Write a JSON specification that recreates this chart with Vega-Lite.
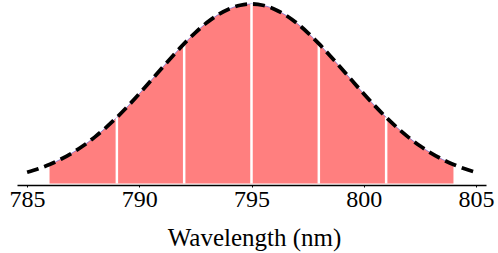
{
  "$schema": "https://vega.github.io/schema/vega-lite/v6.json",
  "autosize": {"type": "none"},
  "width": 469,
  "height": 179.5,
  "padding": {"left": 17, "top": 4, "right": 12, "bottom": 69.5},
  "config": {"view": {"stroke": null}, "font": "Liberation Serif"},
  "datasets": {
    "curve": [
      {"wl": 785, "v": 0.0625}, {"wl": 785.5, "v": 0.08191}, {"wl": 786, "v": 0.10584}, {"wl": 786.5, "v": 0.1349},
      {"wl": 787, "v": 0.16957}, {"wl": 787.5, "v": 0.21022}, {"wl": 788, "v": 0.25703}, {"wl": 788.5, "v": 0.30992},
      {"wl": 789, "v": 0.36856}, {"wl": 789.5, "v": 0.43226}, {"wl": 790, "v": 0.5}, {"wl": 790.5, "v": 0.57038},
      {"wl": 791, "v": 0.64171}, {"wl": 791.5, "v": 0.71202}, {"wl": 792, "v": 0.77918}, {"wl": 792.5, "v": 0.8409},
      {"wl": 793, "v": 0.89503}, {"wl": 793.5, "v": 0.93952}, {"wl": 794, "v": 0.97265}, {"wl": 794.5, "v": 0.99309},
      {"wl": 795, "v": 1},
      {"wl": 795.5, "v": 0.99309}, {"wl": 796, "v": 0.97265}, {"wl": 796.5, "v": 0.93952}, {"wl": 797, "v": 0.89503},
      {"wl": 797.5, "v": 0.8409}, {"wl": 798, "v": 0.77918}, {"wl": 798.5, "v": 0.71202}, {"wl": 799, "v": 0.64171},
      {"wl": 799.5, "v": 0.57038}, {"wl": 800, "v": 0.5}, {"wl": 800.5, "v": 0.43226}, {"wl": 801, "v": 0.36856},
      {"wl": 801.5, "v": 0.30992}, {"wl": 802, "v": 0.25703}, {"wl": 802.5, "v": 0.21022}, {"wl": 803, "v": 0.16957},
      {"wl": 803.5, "v": 0.1349}, {"wl": 804, "v": 0.10584}, {"wl": 804.5, "v": 0.08191}, {"wl": 805, "v": 0.0625}
    ],
    "bins": [
      {"wl": 789, "v": 0.36856}, {"wl": 792, "v": 0.77918}, {"wl": 795, "v": 1},
      {"wl": 798, "v": 0.77918}, {"wl": 801, "v": 0.36856}
    ]
  },
  "encoding": {
    "x": {
      "field": "wl", "type": "quantitative",
      "scale": {"domain": [784.55, 805.45], "nice": false, "zero": false},
      "axis": {
        "title": "Wavelength (nm)", "values": [785, 790, 795, 800, 805],
        "grid": false, "offset": 1.5, "domainColor": "black", "domainWidth": 1.5,
        "tickColor": "black", "tickSize": 2, "tickWidth": 1,
        "labelFontSize": 24, "labelColor": "black", "labelPadding": 0, "labelFlush": false,
        "titleFontSize": 25, "titleFontWeight": "normal", "titleColor": "black",
        "titleBaseline": "alphabetic", "titleY": 60, "titleX": 237
      }
    },
    "y": {
      "field": "v", "type": "quantitative",
      "scale": {"domain": [0, 1], "nice": false},
      "axis": null
    }
  },
  "layer": [
    {
      "data": {"name": "curve"},
      "transform": [{"filter": "datum.wl >= 786 && datum.wl <= 804"}],
      "mark": {"type": "area", "color": "#ff7f7f", "interpolate": "monotone"}
    },
    {
      "data": {"name": "curve"},
      "transform": [{"filter": "datum.wl >= 786 && datum.wl <= 804"}],
      "mark": {"type": "line", "color": "#6a6ad8", "strokeWidth": 0.7, "interpolate": "monotone"}
    },
    {
      "data": {"name": "bins"},
      "mark": {"type": "rule", "color": "white", "strokeWidth": 2.5},
      "encoding": {"y2": {"datum": 0}}
    },
    {
      "data": {"name": "curve"},
      "mark": {"type": "line", "color": "black", "strokeWidth": 3.8, "strokeDash": [12, 6], "interpolate": "monotone"}
    }
  ]
}
